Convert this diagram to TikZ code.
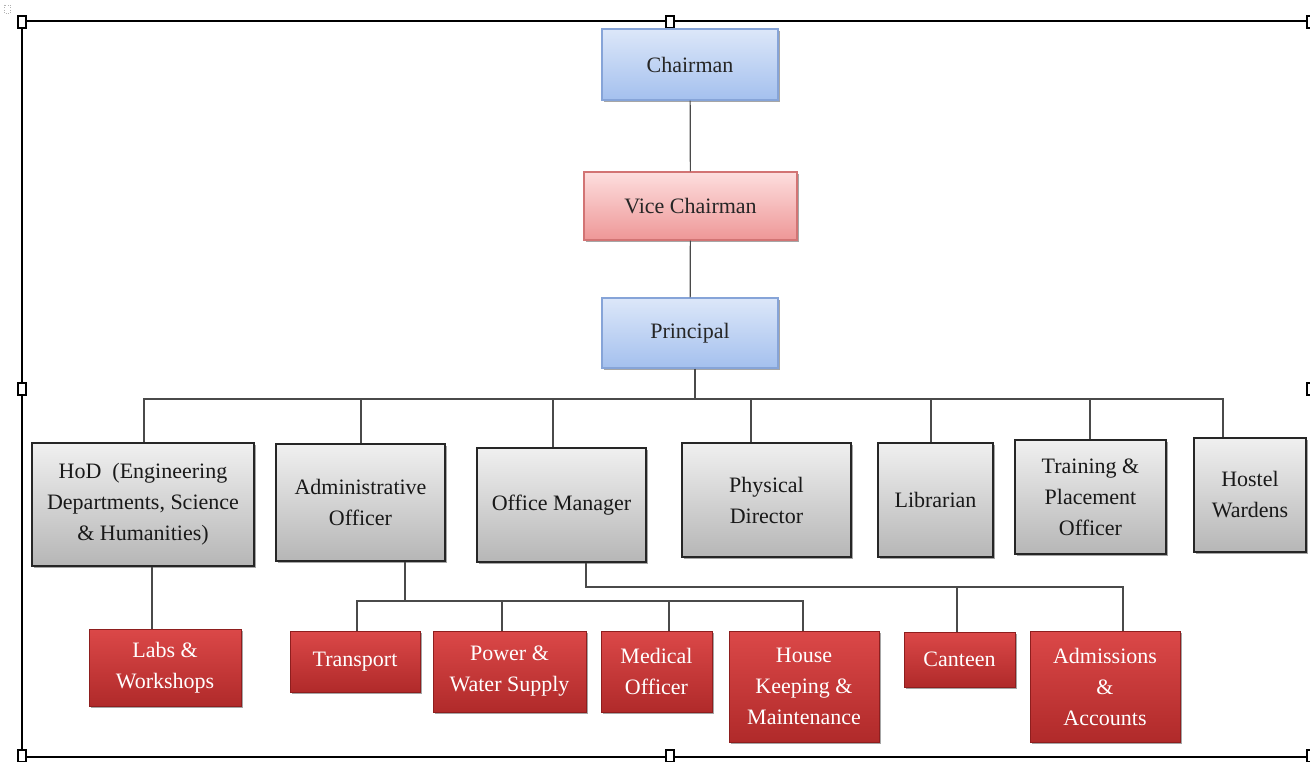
\documentclass[tikz,border=0pt]{standalone}
\usepackage{fontspec}
\setmainfont{Liberation Serif}
\usetikzlibrary{shadows}
\definecolor{lnc}{HTML}{4A4A4A}
\definecolor{bltop}{HTML}{DCE7F9}
\definecolor{blbot}{HTML}{A4C0EE}
\definecolor{bldr}{HTML}{86A4D8}
\definecolor{pktop}{HTML}{FDDEDE}
\definecolor{pkbot}{HTML}{EE9797}
\definecolor{pkdr}{HTML}{D27474}
\definecolor{rdtop}{HTML}{DB4848}
\definecolor{rdbot}{HTML}{B02A2A}
\definecolor{rddr}{HTML}{8E1E1E}
\definecolor{grtop}{HTML}{F0F0F0}
\definecolor{grbot}{HTML}{B6B6B6}
\tikzset{
  x=1pt, y=-1pt,
  base/.style={inner sep=0pt, align=center, font=\fontsize{22}{31}\selectfont,
    drop shadow={shadow xshift=1.5pt, shadow yshift=-2pt, opacity=0.35, fill=black}},
  bluebox/.style={base, draw=bldr, line width=1.2pt, top color=bltop, bottom color=blbot, text=black!85},
  pinkbox/.style={base, draw=pkdr, line width=1.2pt, top color=pktop, bottom color=pkbot, text=black!85},
  graybox/.style={base, draw=black!85, line width=1.5pt, top color=grtop, bottom color=grbot, text=black!90},
  redbox/.style={base, draw=rddr, line width=1pt, top color=rdtop, bottom color=rdbot, text=white},
  conn/.style={draw=lnc, line width=1.2pt},
  frm/.style={draw=black, line width=1.6pt},
  hdl/.style={draw=black, line width=1.2pt, fill=white}
}
\begin{document}
\begin{tikzpicture}
\useasboundingbox (0,0) rectangle (1310,762);
\fill[white] (0,0) rectangle (1310,762);
% frame
\draw[frm] (22,21) -- (1312,21);
\draw[frm] (22,21) -- (22,757);
\draw[frm] (22,757) -- (1312,757);
\draw[black!30, dotted] (4,5) rectangle (10,13);
\foreach \p in {(22,22),(670,22),(22,389),(22,756),(670,756),(1311,22),(1311,389),(1311,756)}
  \draw[hdl] \p ++(-4,-6) rectangle ++(8,12);

% top chain
\node[bluebox, minimum width=176, minimum height=71] (chair) at (690,64.5) {Chairman};
\node[pinkbox, minimum width=213, minimum height=68] (vice) at (690.5,206) {Vice Chairman};
\node[bluebox, minimum width=176, minimum height=70] (princ) at (690,333) {Principal};

% second level
\node[graybox, minimum width=222, minimum height=123] (hod) at (143,504.5) {HoD\ \ (Engineering\\Departments, Science\\\& Humanities)};
\node[graybox, minimum width=169, minimum height=117] (admin) at (360.5,502.5) {Administrative\\Officer};
\node[graybox, minimum width=169, minimum height=114] (office) at (561.5,505) {Office Manager};
\node[graybox, minimum width=169, minimum height=114] (phys) at (766.5,500) {Physical\\Director};
\node[graybox, minimum width=115, minimum height=114] (lib) at (935.5,500) {Librarian};
\node[graybox, minimum width=151, minimum height=114] (train) at (1090.5,497) {Training \&\\Placement\\Officer};
\node[graybox, minimum width=112, minimum height=114] (hostel) at (1250,495) {Hostel\\Wardens};

% third level
\node[redbox, minimum width=152, minimum height=77] (labs) at (165,667.5) {Labs \&\\Workshops};
\node[redbox, minimum width=130, minimum height=61] (trans) at (355,661.5) {Transport};
\node[redbox, minimum width=153, minimum height=81] (power) at (509.5,671.5) {Power \&\\Water Supply};
\node[redbox, minimum width=111, minimum height=81] (med) at (656.5,671.5) {Medical\\Officer};
\node[redbox, minimum width=150, minimum height=111] (house) at (804,686.5) {House\\Keeping \&\\Maintenance};
\node[redbox, minimum width=111, minimum height=55] (cant) at (959.5,659.5) {Canteen};
\node[redbox, minimum width=150, minimum height=111] (adm) at (1105,686.5) {Admissions\\\&\\Accounts};

% connectors top
\draw[conn] (chair) -- (vice);
\draw[conn] (vice) -- (princ);
\coordinate (pb) at (695,399);
\coordinate (t1) at (144,399);
\coordinate (t2) at (361,399);
\coordinate (t3) at (553,399);
\coordinate (t4) at (751,399);
\coordinate (t5) at (931,399);
\coordinate (t6) at (1090,399);
\coordinate (t7) at (1223,399);
\draw[conn] (princ.south -| pb) -- (pb);
\draw[conn] (t1 |- hod.north) -- (t1) -- (t7) -- (t7 |- hostel.north);
\foreach \t/\n in {t2/admin,t3/office,t4/phys,t5/lib,t6/train}
  \draw[conn] (\t) -- (\t |- \n.north);

% HoD to labs
\coordinate (lx) at (152,600);
\draw[conn] (lx |- hod.south) -- (lx |- labs.north);

% admin bus
\coordinate (ad) at (405,601);
\coordinate (a1) at (357,601);
\coordinate (a2) at (502,601);
\coordinate (a3) at (669,601);
\coordinate (a4) at (803,601);
\draw[conn] (ad |- admin.south) -- (ad);
\draw[conn] (a1 |- trans.north) -- (a1) -- (a4) -- (a4 |- house.north);
\draw[conn] (a2) -- (a2 |- power.north);
\draw[conn] (a3) -- (a3 |- med.north);

% office bus
\coordinate (od) at (586,587);
\coordinate (o1) at (957,587);
\coordinate (o2) at (1123,587);
\draw[conn] (od |- office.south) -- (od) -- (o2) -- (o2 |- adm.north);
\draw[conn] (o1) -- (o1 |- cant.north);
\end{tikzpicture}
\end{document}
